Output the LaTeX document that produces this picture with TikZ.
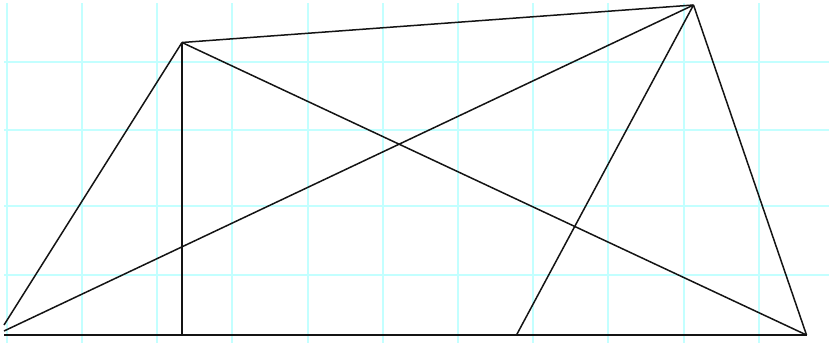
\documentclass[tikz,border=0pt]{standalone}
\begin{document}
\begin{tikzpicture}[x=1pt,y=-1pt,
  gridline/.style={draw={rgb,255:red,195;green,255;blue,255},line width=1.3pt},
  edge/.style={draw={rgb,255:red,20;green,20;blue,20},line width=1.5pt}]
\useasboundingbox (0,0) rectangle (829,343);
\fill[white] (0,0) rectangle (829,343);
% grid
\foreach \gx in {7,82,157,232,308,383,458,533,608,684,759}
  \draw[gridline] (\gx,3) -- (\gx,343);
\foreach \gy in {62,130,206,275}
  \draw[gridline] (4,\gy) -- (829,\gy);
% points
\coordinate (A) at (4,331);
\coordinate (A2) at (4,325);
\coordinate (P) at (182,42.5);
\coordinate (Q) at (693.5,5);
\coordinate (R) at (806.5,335);
\coordinate (S) at (516.5,335);
\coordinate (F) at (182,335);
\coordinate (B) at (4,335);
% edges
\draw[edge] (B) -- (R);
\draw[edge] (A2) -- (P);
\draw[edge] (A) -- (Q);
\draw[edge] (P) -- (Q);
\draw[edge] (P) -- (F);
\draw[edge] (P) -- (R);
\draw[edge] (Q) -- (R);
\draw[edge] (Q) -- (S);
\end{tikzpicture}
\end{document}
